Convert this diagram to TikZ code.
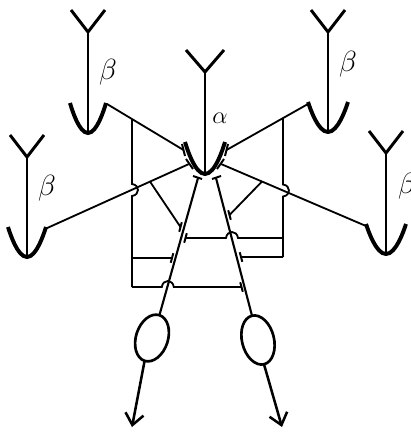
\documentclass[tikz,border=0pt]{standalone}
\usepackage{amsmath}
\usepackage{amssymb}
\usetikzlibrary{arrows.meta}

% one cell: #1 = x of stem, #2 = y of fork, #3 = y of cup bottom, #4 = cup half width
\newcommand{\cellfork}[4]{%
  \draw[stem] (#1-17,#2-22) -- (#1,#2) -- (#1+17,#2-22);
  \draw[stem] (#1,#2) -- (#1,#3);
  \draw[cup] (#1-#4,#3-30) parabola bend (#1,#3) (#1+#4,#3-30);
}

\begin{document}
\begin{tikzpicture}[x=0.025cm,y=-0.025cm,
    stem/.style={line width=2.1pt},
    cup/.style={line width=2.8pt},
    fibre/.style={line width=1.3pt},
    knob/.style={line width=1.4pt},
    efferent/.style={line width=1.5pt},
    outlet/.style={line width=1.8pt,-{Straight Barb[length=8pt,width=13pt]}}]
  \useasboundingbox (0,0) rectangle (410,433);

  % the five cells
  \cellfork{88}{32}{133}{18}
  \cellfork{27}{157}{257}{19}
  \cellfork{328}{32}{132}{20}
  \cellfork{386}{153}{254}{20}
  \draw[stem] (186,50) -- (205,72) -- (224,50);
  \draw[stem] (205,72) -- (205,174);
  \draw[cup] (185,142) parabola bend (205,174) (225,142);

  \node (b1) at (108,72) {\huge$\beta$};
  \node (b2) at (47,188) {\huge$\beta$};
  \node (b3) at (348,64) {\huge$\beta$};
  \node (b4) at (407,186) {\huge$\beta$};
  \node (a0) at (220,118) {\LARGE$\alpha$};

  % endings on the alpha cup
  \draw[knob] (182,144) -- (185,156);
  \draw[knob] (186,159) -- (193,169);
  \draw[knob] (228,144) -- (225,156);
  \draw[knob] (224,159) -- (217,169);
  \draw[knob] (193,176) -- (202,179);
  \draw[knob] (212,179) -- (221,176);

  % fibres from the beta cups
  \draw[fibre] (107,104) -- (183.5,150);
  \draw[fibre] (45,229) -- (189,164);
  \draw[fibre] (308,104) -- (226.5,150);
  \draw[fibre] (221,164) -- (366,226);

  % collaterals
  \draw[fibre] (132,119) -- (132,184) .. controls (140,185) and (140,195) .. (132,196) -- (132,287);
  \draw[fibre] (283,118) -- (283,184.5) .. controls (291,185.5) and (291,195.5) .. (283,196.5) -- (283,257);
  \draw[fibre] (150,181.6) -- (180.5,227);
  \draw[fibre] (262,181.5) -- (229.5,215);
  \draw[fibre] (185.5,238) -- (226,238) .. controls (227,230) and (237,230) .. (238,238) -- (283,238);
  \draw[fibre] (132,258) -- (172,258);
  \draw[fibre] (283,257) -- (241,257);
  \draw[fibre] (132,287) -- (161.8,287) .. controls (162.8,279) and (172.8,279) .. (173.8,287) -- (241.5,287);

  % endings on the two efferent fibres
  \draw[knob] (181.8,222.2) -- (179.2,231.8);
  \draw[knob] (186.8,233.2) -- (184.2,242.8);
  \draw[knob] (173.3,253.2) -- (170.7,262.8);
  \draw[knob] (228.2,210.2) -- (230.8,219.8);
  \draw[knob] (239.7,252.2) -- (242.3,261.8);
  \draw[knob] (240.2,282.2) -- (242.8,291.8);

  % efferent fibres and effectors
  \draw[efferent] (198,178) -- (159.4,315.2);
  \draw[efferent] (216,178) -- (252,315.7);
  \draw[cup,line width=1.9pt] (152,338) circle [x radius=16, y radius=24, rotate=-18];
  \draw[cup,line width=1.9pt] (258,340) circle [x radius=16, y radius=25, rotate=14];
  \draw[outlet] (144.6,360.8) -- (132,427);
  \draw[outlet] (264,364.3) -- (282,427);
  %\draw[outlet] (205,174) -- (205,200);
\end{tikzpicture}
\end{document}
